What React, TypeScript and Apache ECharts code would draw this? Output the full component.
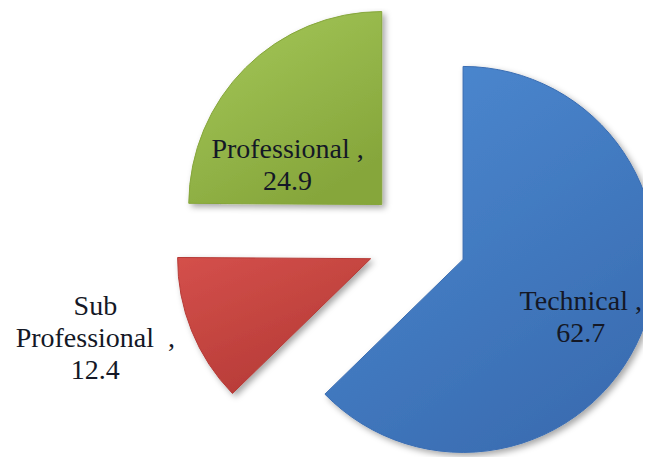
import React, { useEffect, useRef } from "react";
import * as echarts from "echarts";

const categories = ["Technical", "Sub Professional", "Professional"];
const values = [62.7, 12.4, 24.9];
const labelLines = [["Technical ,", "62.7"], ["Sub", "Professional  ,", "12.4"], ["Professional ,", "24.9"]];

const colorPairs = [
  ["#4d8bd3", "#3a6db2"],
  ["#d4504b", "#b53a36"],
  ["#a6c95b", "#86a63b"],
];
const labelShift = [
  [26, 18],
  [-183, 42],
  [-24, 31],
];

const FONT = "'Liberation Serif', 'Times New Roman', serif";
const labelStyle = {
  fontFamily: FONT,
  fontSize: 28,
  lineHeight: 32,
  color: "#141826",
  align: "center",
};

export default function App() {
  const ref = useRef<HTMLDivElement>(null);
  useEffect(() => {
    if (!ref.current) return;
    const chart = echarts.init(ref.current, null, { renderer: "svg" });
    chart.setOption({
      animation: false,
      backgroundColor: "#ffffff",
      textStyle: { fontFamily: FONT },
      series: [
        {
          type: "pie",
          center: [409, 232],
          radius: [0, 193],
          startAngle: 90,
          clockwise: true,
          selectedMode: "multiple",
          selectedOffset: 50,
          avoidLabelOverlap: false,
          labelLine: { show: false },
          emphasis: { disabled: true },
          label: {
            show: true,
            position: "inside",
            ...labelStyle,
            rich: { s: { ...labelStyle } },
          },
          labelLayout: (p: any) => ({ dx: labelShift[p.dataIndex][0], dy: labelShift[p.dataIndex][1] }),
          data: categories.map((name, i) => ({
            name,
            value: values[i],
            selected: true,
            label: { formatter: labelLines[i].map((l) => `{s|${l}}`).join("\n") },
            itemStyle: {
              color: {
                type: "linear",
                x: 0,
                y: 0,
                x2: 0.6,
                y2: 1,
                colorStops: [
                  { offset: 0, color: colorPairs[i][0] },
                  { offset: 1, color: colorPairs[i][1] },
                ],
              },
              borderColor: colorPairs[i][1],
              borderWidth: 1,
              shadowBlur: 6,
              shadowOffsetX: 3,
              shadowOffsetY: 3,
              shadowColor: "rgba(0,0,0,0.35)",
            },
          })),
        },
      ],
    });
    return () => chart.dispose();
  }, []);
  return <div ref={ref} style={{ width: 643, height: 449 }} />;
}
